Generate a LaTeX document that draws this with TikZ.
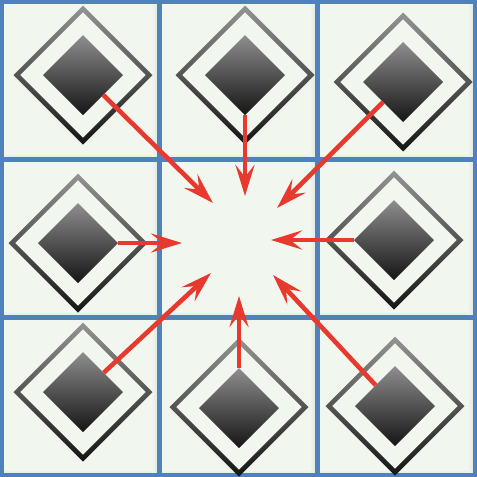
\documentclass[tikz,border=0pt]{standalone}
\usetikzlibrary{arrows.meta,shapes.geometric}
\definecolor{gridblue}{HTML}{4F81BD}
\definecolor{cellbg}{HTML}{F1F7EF}
\definecolor{cellsh}{HTML}{DCE4DA}
\definecolor{arrred}{HTML}{E8392F}
\definecolor{gtop}{HTML}{8E8E8E}
\definecolor{gbot}{HTML}{151515}
\tikzset{
  innerd/.style={diamond, shape aspect=1, minimum size=80pt, inner sep=0pt, outer sep=0pt,
    top color=gtop, bottom color=gbot, draw=none},
  arr/.style={draw=arrred, line width=4.6pt,
    -{Stealth[length=31pt, width=19pt, inset=12pt]}},
  gridline/.style={draw=gridblue, line width=4.5pt},
}
\newcommand{\ring}[2]{%
  \shade[top color=gtop!95, bottom color=gbot, even odd rule]
    (#1,#2-69.5) -- (#1+69.5,#2) -- (#1,#2+69.5) -- (#1-69.5,#2) -- cycle
    (#1,#2-62.8) -- (#1+62.8,#2) -- (#1,#2+62.8) -- (#1-62.8,#2) -- cycle;}
\newcommand{\cellbox}[2]{%
  \fill[cellbg] (#1,#2) rectangle (#1+158,#2+158);
  \shade[left color=cellbg, right color=cellsh] (#1+150,#2) rectangle (#1+158,#2+158);
  \shade[top color=cellbg, bottom color=cellsh] (#1,#2+152) rectangle (#1+150,#2+158);}
\begin{document}
\begin{tikzpicture}[x=1pt,y=-1pt]
\useasboundingbox (0,0) rectangle (477,477);
\fill[cellbg] (0,0) rectangle (477,477);
\foreach \i in {1.5,159.5,317.5}{\foreach \j in {1.5,159.5,317.5}{\cellbox{\i}{\j}}}
% grid
\foreach \v in {1.5,159.5,317.5,475.5}{
  \path[gridline] (\v,0) -- (\v,477);
  \path[gridline] (0,\v) -- (477,\v);}
% outer rings
\ring{83}{75}
\ring{245}{75}
\ring{403}{82}
\ring{78}{243}
\ring{394}{240}
\ring{83}{392}
\ring{239}{407}
\ring{395}{406}
% inner diamonds
\node[innerd] (iTL) at (83,75) {};
\node[innerd] (iTM) at (245,75) {};
\node[innerd] (iTR) at (403,82) {};
\node[innerd] (iML) at (78,243) {};
\node[innerd] (iMR) at (394,240) {};
\node[innerd] (iBL) at (83,392) {};
\node[innerd] (iBM) at (239,408) {};
\node[innerd] (iBR) at (395,406) {};
% arrow tips
\coordinate (tTL) at (213,203);
\coordinate (tTM) at (245,196);
\coordinate (tTR) at (277,208);
\coordinate (tML) at (182,243);
\coordinate (tMR) at (271,240);
\coordinate (tBL) at (211,273);
\coordinate (tBM) at (239,296);
\coordinate (tBR) at (273,275);
\foreach \n in {TL,TM,TR,ML,MR,BL,BM,BR}{\draw[arr] (i\n) -- (t\n);}
\end{tikzpicture}
\end{document}
